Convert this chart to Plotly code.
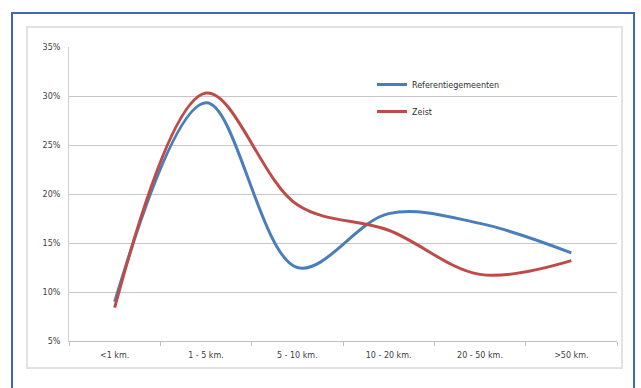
import plotly.graph_objects as go

categories = ["<1 km.", "1 - 5 km.", "5 - 10 km.", "10 - 20 km.", "20 - 50 km.", ">50 km."]
referentie = [0.090, 0.293, 0.125, 0.180, 0.170, 0.140]
zeist = [0.084, 0.303, 0.189, 0.163, 0.118, 0.132]
y_ticks = [0.05, 0.10, 0.15, 0.20, 0.25, 0.30, 0.35]

L, R, T, B = 69, 24, 47, 47
W, H = 641, 388
pw, ph = W - L - R, H - T - B

def px(x):
    return (x - L) / pw

def py(y):
    return (H - B - y) / ph

fig = go.Figure()
fig.add_trace(go.Scatter(x=categories, y=referentie, name="Referentiegemeenten", legendgroup="a",
                         mode="lines", line=dict(color="#4a7ebb", width=3, shape="spline", smoothing=1.0)))
fig.add_trace(go.Scatter(x=categories, y=zeist, name="Zeist", legendgroup="b",
                         mode="lines", line=dict(color="#be4b48", width=3, shape="spline", smoothing=1.0)))

fig.update_layout(
    width=W, height=H,
    margin=dict(l=L, r=R, t=T, b=B),
    paper_bgcolor="white", plot_bgcolor="white",
    font=dict(family="DejaVu Sans", size=8, color="#404040"),
    showlegend=True,
    legend=dict(x=px(372), y=py(70), xanchor="left", yanchor="top",
                bgcolor="rgba(0,0,0,0)", font=dict(size=8, color="#303030"),
                tracegroupgap=8, itemwidth=30),
    shapes=[
        dict(type="rect", xref="paper", yref="paper",
             x0=px(27), x1=px(622), y0=py(368), y1=py(27),
             line=dict(color="#e2e2e2", width=2), layer="below"),
        dict(type="rect", xref="paper", yref="paper",
             x0=px(12), x1=px(634), y0=py(400), y1=py(13),
             line=dict(color="#3f67b5", width=2), layer="above"),
    ],
)
fig.update_xaxes(type="category", range=[-0.5, 5.5], showgrid=False, showline=True,
                 linecolor="#bfbfbf", linewidth=1,
                 ticks="outside", tickson="boundaries", ticklen=4, tickcolor="#bfbfbf",
                 tickfont=dict(size=8, color="#404040"), ticklabelstandoff=6)
fig.update_yaxes(range=[0.05, 0.35], tickvals=y_ticks, tickformat=".0%",
                 showgrid=True, gridcolor="#c8c8c8", gridwidth=1,
                 showline=True, linecolor="#d0d0d0", zeroline=False,
                 ticks="", tickfont=dict(size=8, color="#404040"), ticklabelstandoff=6)

fig.write_html("out.html")
